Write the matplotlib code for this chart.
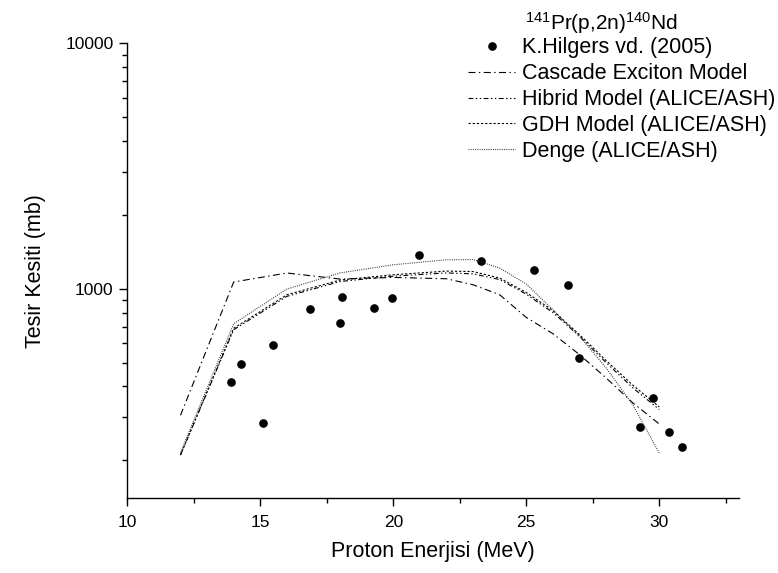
import matplotlib
matplotlib.use("Agg")
import matplotlib.pyplot as plt
from matplotlib.ticker import FixedLocator, NullFormatter, FixedFormatter, LogLocator

plt.rcParams['font.family'] = ['Liberation Sans', 'DejaVu Sans']
plt.rcParams['mathtext.fontset'] = 'custom'
plt.rcParams['mathtext.rm'] = 'Liberation Sans'
plt.rcParams['lines.scale_dashes'] = False

# Measured cross sections (Hilgers et al., 2005)
exp_energy = [13.89, 14.29, 15.09, 15.47, 16.88, 18.01, 18.09, 19.29, 19.97,
              20.97, 23.29, 25.28, 26.57, 26.97, 29.26, 29.76, 30.36, 30.86]
exp_xs = [417, 495, 283, 592, 827, 725, 923, 835, 913,
          1371, 1296, 1187, 1031, 522, 272, 359, 261, 226]

# Model calculations on a common energy grid
model_energy = [12, 14, 16, 18, 20, 22, 23, 24, 25, 26, 27, 28, 29, 30]
cascade_xs = [305, 1065, 1159, 1095, 1112, 1098, 1038, 945, 764, 656, 539, 433, 343, 281]
hybrid_xs = [210, 681, 931, 1070, 1125, 1160, 1150, 1090, 950, 800, 640, 500, 395, 322]
gdh_xs = [210, 690, 945, 1085, 1140, 1180, 1175, 1105, 965, 815, 650, 510, 405, 330]
denge_xs = [215, 720, 997, 1160, 1252, 1312, 1315, 1214, 1045, 821, 640, 476, 337, 214]

labels = ["K.Hilgers vd. (2005)", "Cascade Exciton Model", "Hibrid Model (ALICE/ASH)",
          "GDH Model (ALICE/ASH)", "Denge (ALICE/ASH)"]
title = r"$\mathregular{^{141}}$Pr(p,2n)$\mathregular{^{140}}$Nd"

fig = plt.figure(figsize=(7.78, 5.73), dpi=100)
ax = fig.add_axes([0.1636, 0.1304, 0.95 - 0.1636, 0.9244 - 0.1304])

lw = 0.8
ax.plot(exp_energy, exp_xs, linestyle='none', marker='o', markersize=5.2,
        color='black', label=labels[0])
ax.plot(model_energy, cascade_xs, color='black', lw=lw,
        dashes=(5, 2.5, 1, 2.5), label=labels[1])
ax.plot(model_energy, hybrid_xs, color='black', lw=lw,
        dashes=(3.5, 1.8, 1, 1.8, 1, 1.8), label=labels[2])
ax.plot(model_energy, gdh_xs, color='black', lw=lw,
        dashes=(1.6, 1.4), label=labels[3])
ax.plot(model_energy, denge_xs, color='#333333', lw=lw,
        dashes=(0.7, 0.9), label=labels[4])

ax.set_yscale('log')
ax.set_xlim(10, 33)
ax.set_ylim(140, 10000)

ax.xaxis.set_major_locator(FixedLocator([10, 15, 20, 25, 30]))
ax.xaxis.set_minor_locator(FixedLocator([12.5, 17.5, 22.5, 27.5, 32.5]))
ax.yaxis.set_major_locator(FixedLocator([1000, 10000]))
ax.yaxis.set_major_formatter(FixedFormatter(["1000", "10000"]))
ax.yaxis.set_minor_locator(LogLocator(base=10, subs=range(2, 10)))
ax.yaxis.set_minor_formatter(NullFormatter())

for s in ['top', 'right']:
    ax.spines[s].set_visible(False)
for s in ['left', 'bottom']:
    ax.spines[s].set_linewidth(1.0)

ax.tick_params(which='major', direction='out', length=6, width=1.0,
               labelsize=12.5, pad=4)
ax.tick_params(which='minor', direction='out', length=3.3, width=1.0)
ax.tick_params(axis='x', which='major', pad=6)

ax.set_xlabel("Proton Enerjisi (MeV)", fontsize=15.5, labelpad=8)
ax.set_ylabel("Tesir Kesiti (mb)", fontsize=15.5, labelpad=14)

leg = ax.legend(loc='upper left', bbox_to_anchor=(0.543, 1.032), frameon=False,
                fontsize=15.5, handlelength=2.2, handletextpad=0.3,
                labelspacing=0.225, borderaxespad=0, numpoints=1)
fig.text(525 / 778, 1 - 23 / 573, title, fontsize=15, ha='left', va='center')

fig.savefig("out.png", dpi=100)
